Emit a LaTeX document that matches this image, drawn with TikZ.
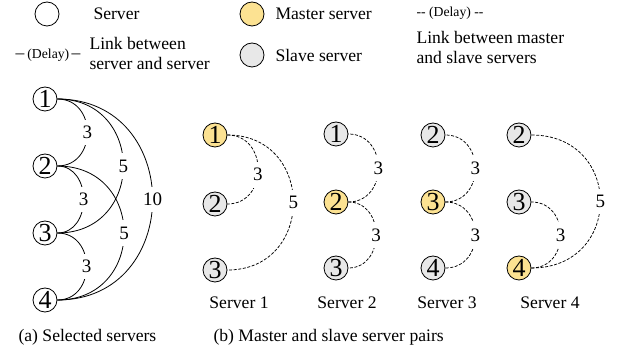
\documentclass[tikz,border=0pt]{standalone}
\usepackage{fontspec}
\setmainfont{Liberation Serif}
\definecolor{masterfill}{RGB}{252,226,146}
\definecolor{slavefill}{RGB}{232,232,232}
\begin{document}
\begin{tikzpicture}[x=1pt,y=-1pt,
  srv/.style={circle,draw,line width=0.8pt,minimum size=24pt,inner sep=0pt,
              font=\fontsize{26}{26}\selectfont},
  master/.style={srv,fill=masterfill},
  slave/.style={srv,fill=slavefill},
  link/.style={line width=0.8pt},
  mslink/.style={line width=0.75pt,dash pattern=on 3pt off 1.6pt},
  wlabel/.style={fill=white,inner xsep=3pt,inner ysep=6.5pt,font=\fontsize{19}{19}\selectfont},
  txt/.style={font=\fontsize{17.6}{20}\selectfont},
  smalltxt/.style={font=\fontsize{13.7}{15}\selectfont}]
\useasboundingbox (0,0) rectangle (619,363);

% ---------- legend ----------
\node[srv] (legsrv) at (47,14) {};
\node[txt,anchor=west] (legsrvtxt) at (90,14) {Server};
\node[smalltxt] (legdelay) at (48,55) {\fontsize{17.6}{20}\selectfont–\,\fontsize{13.7}{15}\selectfont(Delay)\,\fontsize{17.6}{20}\selectfont–};
\node[txt,anchor=west,align=left] (leglink) at (86,53) {Link between\\server and server};
\node[master] (legmaster) at (252,14) {};
\node[txt,anchor=west] (legmastertxt) at (272,14) {Master server};
\node[slave] (legslave) at (252,55) {};
\node[txt,anchor=west] (legslavetxt) at (272,55) {Slave server};
\node[smalltxt] (legmsdelay) at (450,13) {-{}- (Delay) -{}-};
\node[txt,anchor=west,align=left] (legmslink) at (413,47) {Link between master\\and slave servers};

% ---------- (a) selected servers ----------
\node[srv] (a1) at (45,99) {1};
\node[srv] (a2) at (45,166) {2};
\node[srv] (a3) at (45,233) {3};
\node[srv] (a4) at (45,300) {4};
\draw[link] (a1.east) .. controls +(40,0) and +(40,0) .. (a2.east) coordinate[pos=0.5] (a12);
\draw[link] (a2.east) .. controls +(35,0) and +(35,0) .. (a3.east) coordinate[pos=0.5] (a23);
\draw[link] (a3.east) .. controls +(39,0) and +(39,0) .. (a4.east) coordinate[pos=0.5] (a34);
\draw[link] (a1.east) .. controls +(88,0) and +(88,0) .. (a3.east) coordinate[pos=0.5] (a13);
\draw[link] (a2.east) .. controls +(89,0) and +(89,0) .. (a4.east) coordinate[pos=0.5] (a24);
\draw[link] (a1.east) .. controls +(127,0) and +(127,0) .. (a4.east) coordinate[pos=0.5] (a14);
\node[wlabel] at (a12) {3};
\node[wlabel] at (a23) {3};
\node[wlabel] at (a34) {3};
\node[wlabel] at (a13) {5};
\node[wlabel] at (a24) {5};
\node[wlabel] at (a14) {10};

% ---------- (b) master and slave server pairs ----------
% Server 1
\node[master] (b11) at (215,135) {1};
\node[slave]  (b12) at (215,204) {2};
\node[slave]  (b13) at (215,270) {3};
\draw[mslink] (b11.east) .. controls +(41,0) and +(41,0) .. (b12.east) coordinate[pos=0.55] (b1l2);
\draw[mslink] (b11.east) .. controls +(88,0) and +(88,0) .. (b13.east) coordinate[pos=0.5] (b1l3);
\node[wlabel] at (b1l2) {3};
\node[wlabel] at (b1l3) {5};
\node[txt] (cap1) at (239,303) {Server 1};

% Server 2
\node[slave]  (b21) at (336,134) {1};
\node[master] (b22) at (336,202) {2};
\node[slave]  (b23) at (336,268) {3};
\draw[mslink] (b22.east) .. controls +(40,0) and +(40,0) .. (b21.east) coordinate[pos=0.5] (b2l1);
\draw[mslink] (b22.east) .. controls +(37,0) and +(37,0) .. (b23.east) coordinate[pos=0.5] (b2l3);
\node[wlabel] at (b2l1) {3};
\node[wlabel] at (b2l3) {3};
\node[txt] (cap2) at (347,303) {Server 2};

% Server 3
\node[slave]  (b32) at (433,135) {2};
\node[master] (b33) at (433,202) {3};
\node[slave]  (b34) at (433,268) {4};
\draw[mslink] (b33.east) .. controls +(40,0) and +(40,0) .. (b32.east) coordinate[pos=0.5] (b3l2);
\draw[mslink] (b33.east) .. controls +(40,0) and +(40,0) .. (b34.east) coordinate[pos=0.5] (b3l4);
\node[wlabel] at (b3l2) {3};
\node[wlabel] at (b3l4) {3};
\node[txt] (cap3) at (447,303) {Server 3};

% Server 4
\node[slave]  (b42) at (519,135) {2};
\node[slave]  (b43) at (519,202) {3};
\node[master] (b44) at (519,268) {4};
\draw[mslink] (b44.east) .. controls +(39,0) and +(39,0) .. (b43.east) coordinate[pos=0.5] (b4l3);
\draw[mslink] (b44.east) .. controls +(92,0) and +(92,0) .. (b42.east) coordinate[pos=0.5] (b4l2);
\node[wlabel] at (b4l3) {3};
\node[wlabel] at (b4l2) {5};
\node[txt] (cap4) at (550,303) {Server 4};

% ---------- captions ----------
\node[txt,anchor=west] (capa) at (15,337) {(a) Selected servers};
\node[txt,anchor=west] (capb) at (210,337) {(b) Master and slave server pairs};
\end{tikzpicture}
\end{document}
